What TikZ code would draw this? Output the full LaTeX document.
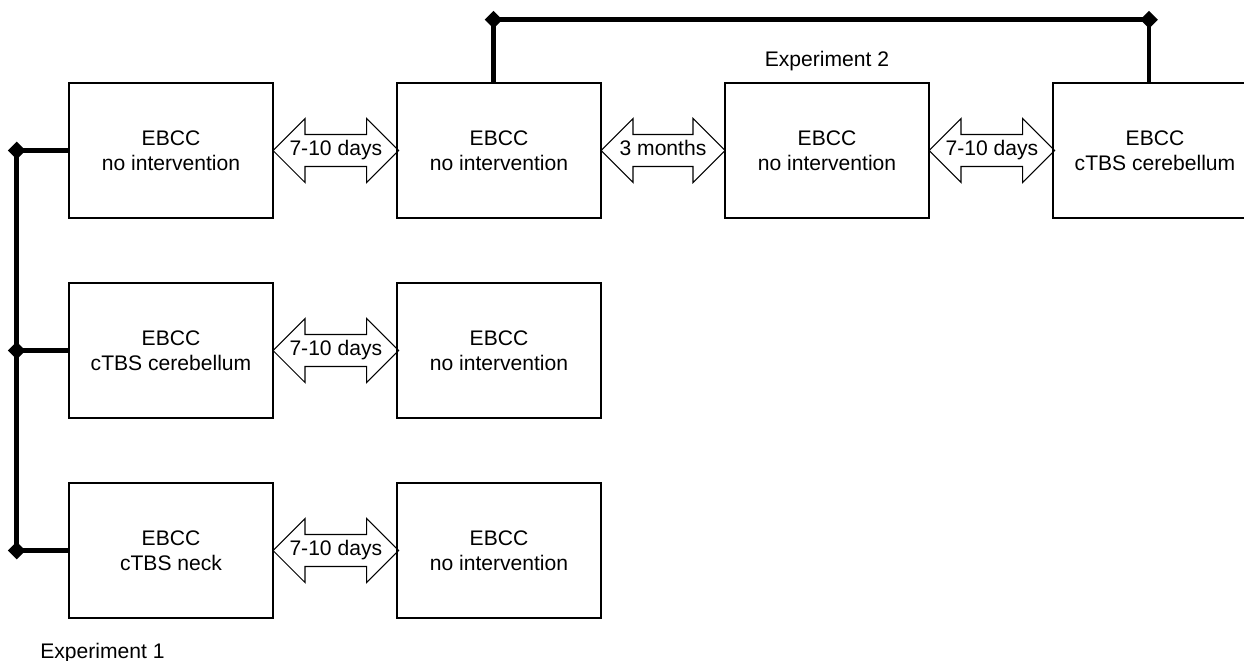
\documentclass[tikz,border=0pt]{standalone}
\usepackage{fontspec}
\setmainfont{Liberation Sans}
\usetikzlibrary{shapes.arrows,shapes.geometric}
\usetikzlibrary{positioning,backgrounds}

\begin{document}
\begin{tikzpicture}[font=\fontsize{12pt}{14.5pt}\selectfont, node distance=1.3cm and 2.48cm]
	\tikzstyle{block}=[rectangle, draw=black, line width=1.1pt, outer sep=0pt, minimum width=4.08cm, minimum height=2.7cm, align=center]
	\tikzstyle{gap}=[double arrow, draw=black, line width=0.6pt, outer sep=0pt, inner xsep=0pt, inner ysep=3.3pt, text height=8.5pt, text depth=2.5pt, minimum height=2.48cm, double arrow head extend=0.32cm, double arrow tip angle=90]
	\tikzstyle{joint}=[diamond, fill=black, inner sep=0pt, minimum width=0.36cm, minimum height=0.36cm]
	\tikzstyle{bar}=[line width=2.8pt]
	\tikzstyle{caption}=[inner sep=0pt]
	\useasboundingbox (0,0) rectangle (24.88,-13.22);
	% experiment 1 sessions
	\node[block] (a1) at (3.42,-3.01) {EBCC\\no intervention};
	\node[block] (a2) [right =of a1] {EBCC\\no intervention};
	\node[block] (b1) [below =of a1] {EBCC\\cTBS cerebellum};
	\node[block] (b2) [right =of b1] {EBCC\\no intervention};
	\node[block] (c1) [below =of b1] {EBCC\\cTBS neck};
	\node[block] (c2) [right =of c1] {EBCC\\no intervention};
	% experiment 2 sessions
	\node[block] (a3) [right =of a2] {EBCC\\no intervention};
	\node[block] (a4) [right =of a3] {EBCC\\cTBS cerebellum};
	% intervals
	\node[gap] (g1) [right =0pt of a1] {7-10 days};
	\node[gap] (g2) [right =0pt of a2] {3 months};
	\node[gap] (g3) [right =0pt of a3] {7-10 days};
	\node[gap] (g4) [right =0pt of b1] {7-10 days};
	\node[gap] (g5) [right =0pt of c1] {7-10 days};
	% brackets
	\node[joint] (j1) [left =0.86cm of a1.west] {};
	\node[joint] (j2) [left =0.86cm of b1.west] {};
	\node[joint] (j3) [left =0.86cm of c1.west] {};
	\node[joint] (t1) [above =1.08cm of a2.north, xshift=-0.11cm] {};
	\node[joint] (t2) [above =1.08cm of a4.north, xshift=-0.12cm] {};
	\node[caption] (exp2) [above =0.24cm of a3] {Experiment 2};
	\node[caption] (exp1) [below right =0.5cm and -0.58cm of c1.south west] {Experiment 1};
	\begin{scope}[on background layer]
		\path[bar]
		(j1.center) edge (a1.west)
		(j2.center) edge (b1.west)
		(j3.center) edge (c1.west)
		(j1.center) edge (j3.center)
		(t1.center) edge (t1.center |- a2.north)
		(t1.center) edge (t2.center)
		(t2.center) edge (t2.center |- a4.north)
		;
	\end{scope}
\end{tikzpicture}
\end{document}
